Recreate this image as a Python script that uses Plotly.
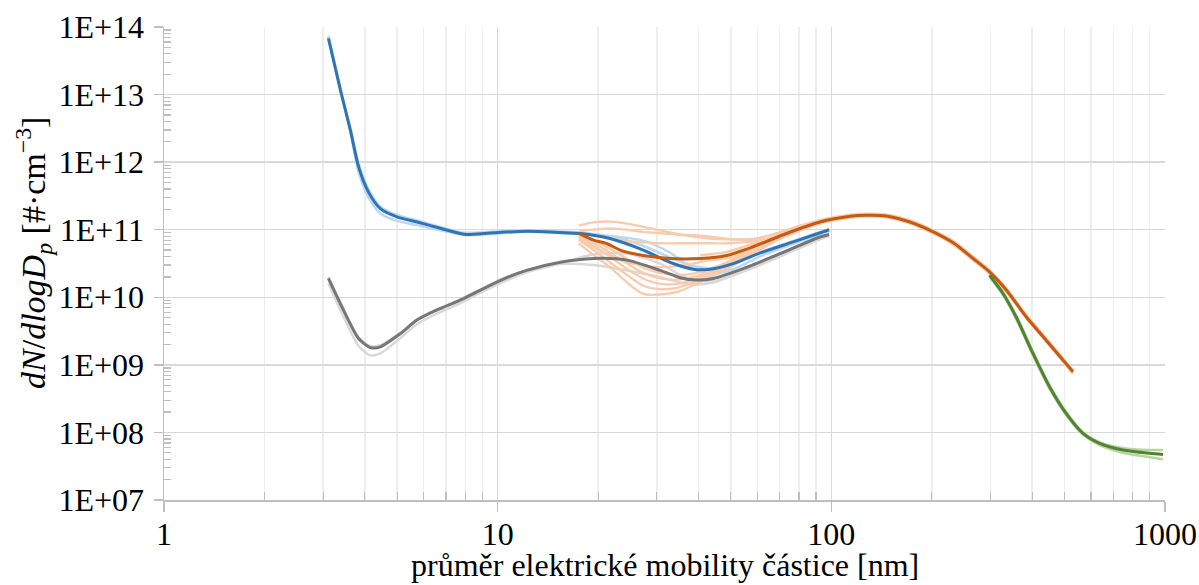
import plotly.graph_objects as go

# ---------------- data ----------------
# blue series (dark + light variants)
blue_x = [3.11, 3.38, 3.62, 3.83, 4.10, 4.45, 4.99, 5.73, 6.73, 7.72, 8.09, 9.71, 12.2, 15.4,
          17.7, 21.7, 27.3, 32.8, 38.6, 43.3, 50.8, 61.0, 76.9, 98.5]
blue_main = [6.8e13, 1.15e13, 2.95e12, 8.5e11, 3.6e11, 2.05e11, 1.55e11, 1.3e11, 1.05e11, 8.8e10,
             8.5e10, 9.0e10, 9.5e10, 9.1e10, 8.8e10, 7.4e10, 5.0e10, 3.3e10, 2.6e10, 2.6e10,
             3.15e10, 4.5e10, 6.6e10, 1.0e11]
blue_light1 = [7.4e13, 1.26e13, 2.8e12, 7.1e11, 3.0e11, 1.74e11, 1.35e11, 1.17e11, 9.8e10, 8.5e10,
               8.3e10, 8.7e10, 9.3e10, 8.9e10, 8.5e10, 8.1e10, 6.9e10, 4.6e10, 2.6e10, 2.2e10,
               2.6e10, 4.0e10, 6.2e10, 9.5e10]
blue_light2 = [7.2e13, 1.2e13, 3.2e12, 9.5e11, 4.0e11, 2.2e11, 1.65e11, 1.38e11, 1.1e11, 9.2e10,
               9.0e10, 9.3e10, 9.7e10, 9.4e10, 9.0e10, 8.0e10, 5.8e10, 3.9e10, 2.9e10, 2.7e10,
               3.2e10, 4.6e10, 6.8e10, 1.02e11]

# gray series
gray_x = [3.11, 3.45, 3.83, 4.15, 4.45, 5.11, 5.73, 6.58, 7.72, 8.66, 10.2, 12.2, 15.4, 19.4,
          24.4, 30.7, 35.2, 39.5, 44.3, 54.4, 68.5, 92.4, 98.5]
gray_main = [1.9e10, 6.45e9, 2.45e9, 1.8e9, 1.85e9, 2.9e9, 4.6e9, 6.5e9, 9.1e9, 1.2e10, 1.78e10,
             2.5e10, 3.3e10, 3.75e10, 3.55e10, 2.5e10, 1.95e10, 1.8e10, 1.9e10, 2.65e10, 4.2e10,
             7.8e10, 8.5e10]
gray_light1 = [1.6e10, 5.2e9, 1.9e9, 1.38e9, 1.48e9, 2.5e9, 4.0e9, 5.75e9, 8.1e9, 1.1e10, 1.62e10,
               2.35e10, 3.15e10, 4.35e10, 4.45e10, 3.15e10, 2.15e10, 1.75e10, 1.78e10, 2.5e10,
               4.0e10, 7.4e10, 8.1e10]
gray_light2 = [2.0e10, 6.8e9, 2.55e9, 1.9e9, 1.95e9, 3.0e9, 4.7e9, 6.6e9, 9.3e9, 1.23e10, 1.82e10,
               2.5e10, 3.1e10, 3.0e10, 2.5e10, 2.0e10, 1.66e10, 1.55e10, 1.66e10, 2.4e10, 3.8e10,
               7.2e10, 7.9e10]

# orange series
orange_x = [17.5, 19.4, 21.2, 23.3, 27.3, 32.8, 40.4, 48.6, 58.3, 73.4, 92.4, 114, 127, 146,
            172, 202, 232, 266, 298, 335, 384, 441, 530]
orange_main = [8.8e10, 7.0e10, 6.25e10, 5.0e10, 4.15e10, 3.75e10, 3.75e10, 4.15e10, 5.6e10,
               8.8e10, 1.3e11, 1.58e11, 1.64e11, 1.6e11, 1.3e11, 9.3e10, 6.4e10, 3.75e10,
               2.38e10, 1.27e10, 5.1e9, 2.3e9, 7.9e8]

# light orange scans (17.5 - 98.5 nm)
scan_x = [17.5, 19.4, 21.7, 24.4, 27.3, 30.7, 34.5, 38.6, 43.3, 48.6, 54.4, 61.0, 68.5, 76.9,
          86.3, 98.5]
scan_u1 = [1.15e11, 1.28e11, 1.32e11, 1.23e11, 1.10e11, 9.8e10, 8.7e10, 7.9e10, 7.4e10, 7.2e10,
           7.2e10, 7.6e10, 8.9e10, 1.07e11, 1.26e11, 1.45e11]
scan_u2 = [9.5e10, 1.0e11, 1.05e11, 1.0e11, 9.3e10, 8.9e10, 8.5e10, 8.3e10, 7.9e10, 7.4e10,
           7.1e10, 7.1e10, 7.9e10, 9.5e10, 1.17e11, 1.41e11]
scan_u3 = [9.1e10, 8.5e10, 7.6e10, 6.8e10, 6.5e10, 6.3e10, 6.3e10, 6.3e10, 6.3e10, 6.3e10,
           6.5e10, 6.9e10, 7.9e10, 9.5e10, 1.15e11, 1.38e11]
scan_l1 = [6.3e10, 4.2e10, 2.8e10, 1.66e10, 1.12e10, 1.1e10, 1.2e10, 1.51e10, 2.0e10, 2.63e10,
           3.55e10, 5.0e10, 6.9e10, 9.1e10, 1.15e11, 1.38e11]
scan_l2 = [7.1e10, 5.0e10, 3.3e10, 2.14e10, 1.48e10, 1.32e10, 1.38e10, 1.66e10, 2.14e10, 2.8e10,
           3.8e10, 5.25e10, 7.2e10, 9.3e10, 1.17e11, 1.41e11]
scan_l3 = [7.6e10, 5.75e10, 4.0e10, 2.63e10, 1.9e10, 1.58e10, 1.58e10, 1.82e10, 2.3e10, 2.95e10,
           4.0e10, 5.5e10, 7.4e10, 9.5e10, 1.2e11, 1.41e11]
scan_l4 = [7.9e10, 6.3e10, 4.6e10, 3.16e10, 2.3e10, 1.9e10, 1.82e10, 2.0e10, 2.4e10, 3.1e10,
           4.2e10, 5.6e10, 7.6e10, 9.8e10, 1.2e11, 1.45e11]
scan_l5 = [8.3e10, 6.9e10, 5.25e10, 3.7e10, 2.75e10, 2.3e10, 2.14e10, 2.24e10, 2.63e10, 3.3e10,
           4.4e10, 5.9e10, 7.8e10, 1.0e11, 1.23e11, 1.45e11]
scan_l6 = [7.2e10, 5.5e10, 4.2e10, 3.3e10, 2.95e10, 2.8e10, 2.9e10, 3.16e10, 3.6e10, 4.3e10,
           5.0e10, 6.2e10, 7.9e10, 1.0e11, 1.23e11, 1.41e11]

# light orange band around the main orange line (40 - 530 nm)
band_x = [40.4, 48.6, 58.3, 73.4, 92.4, 114, 127, 146, 172, 202, 232, 266, 298, 335, 384, 441, 530]
band_hi = [4.2e10, 4.7e10, 6.2e10, 9.5e10, 1.38e11, 1.66e11, 1.72e11, 1.68e11, 1.38e11, 9.8e10,
           6.8e10, 4.0e10, 2.5e10, 1.35e10, 5.5e9, 2.45e9, 8.3e8]
band_lo = [3.4e10, 3.8e10, 5.1e10, 8.1e10, 1.23e11, 1.51e11, 1.57e11, 1.53e11, 1.23e11, 8.8e10,
           6.0e10, 3.55e10, 2.24e10, 1.2e10, 4.9e9, 2.19e9, 7.4e8]

# green series
green_x = [298, 327, 358, 402, 451, 506, 568, 637, 748, 900, 986]
green_main = [2.12e10, 1.14e10, 5.1e9, 1.48e9, 4.7e8, 1.9e8, 9.7e7, 6.9e7, 5.5e7, 4.9e7, 4.7e7]
green_light1 = [2.2e10, 1.2e10, 5.4e9, 1.58e9, 5.0e8, 2.0e8, 1.0e8, 7.2e7, 5.9e7, 5.5e7, 5.5e7]
green_light2 = [2.0e10, 1.08e10, 4.8e9, 1.38e9, 4.4e8, 1.8e8, 9.2e7, 6.5e7, 5.0e7, 4.3e7, 4.0e7]

x_tickvals = [1, 10, 100, 1000]
x_ticktext = ["1", "10", "100", "1000"]
y_tickvals = [1e7, 1e8, 1e9, 1e10, 1e11, 1e12, 1e13, 1e14]
y_ticktext = ["1E+07", "1E+08", "1E+09", "1E+10", "1E+11", "1E+12", "1E+13", "1E+14"]
x_title = "průměr elektrické mobility částice [nm]"
y_title = "<i>dN</i>/<i>dlogD<sub>p</sub></i> [#·cm<sup>−3</sup>]"

# ---------------- styling ----------------
C_BLUE, C_BLUE_L = "#2E75B6", "#BDD7EE"
C_GRAY, C_GRAY_L = "#767676", "#D9D9D9"
C_ORANGE, C_ORANGE_L = "#C55A11", "#F8CBAD"
C_GREEN, C_GREEN_L = "#548235", "#B5D89E"
FONT = "Liberation Serif"

fig = go.Figure()


def add(x, y, color, width):
    fig.add_trace(go.Scatter(x=x, y=y, mode="lines",
                             line=dict(color=color, width=width, shape="spline", smoothing=0.7),
                             hoverinfo="skip", showlegend=False))


for s in (gray_light1, gray_light2):
    add(gray_x, s, C_GRAY_L, 2.5)
for s in (blue_light1, blue_light2):
    add(blue_x, s, C_BLUE_L, 2.5)
for s in (scan_u1, scan_u2, scan_u3, scan_l1, scan_l2, scan_l3, scan_l4, scan_l5, scan_l6):
    add(scan_x, s, C_ORANGE_L, 2.3)
for s in (band_hi, band_lo):
    add(band_x, s, C_ORANGE_L, 2.5)
for s in (green_light1, green_light2):
    add(green_x, s, C_GREEN_L, 2.5)

add(gray_x, gray_main, C_GRAY, 3)
add(blue_x, blue_main, C_BLUE, 3)
add(orange_x, orange_main, C_ORANGE, 3)
add(green_x, green_main, C_GREEN, 3)

x_minor = [m * 10 ** e for e in range(0, 3) for m in range(2, 10)]
y_minor = [m * 10 ** e for e in range(7, 14) for m in range(2, 10)]

fig.update_layout(
    width=1199, height=585,
    margin=dict(l=163.5, r=33.5, t=26.7, b=85),
    paper_bgcolor="white", plot_bgcolor="white",
    font=dict(family=FONT, size=32, color="black"),
    xaxis=dict(
        type="log", range=[0, 3], automargin=False,
        tickmode="array", tickvals=x_tickvals, ticktext=x_ticktext,
        ticks="outside", ticklen=10, tickwidth=1.5, tickcolor="#BFBFBF",
        ticklabelstandoff=-5, ticklabeloverflow="allow",
        showline=True, linecolor="#BFBFBF", linewidth=1.5,
        showgrid=True, gridcolor="#D9D9D9", gridwidth=1.5,
        zeroline=False,
        tickfont=dict(family=FONT, size=32, color="black"),
        minor=dict(tickmode="array", tickvals=x_minor, ticks="inside", ticklen=8,
                   tickwidth=1.2, tickcolor="#BFBFBF",
                   showgrid=True, gridcolor="#EEEEEE", gridwidth=1.5),
    ),
    yaxis=dict(
        type="log", range=[7, 14], automargin=False,
        tickmode="array", tickvals=y_tickvals, ticktext=y_ticktext,
        ticks="outside", ticklen=9, tickwidth=1.5, tickcolor="#BFBFBF",
        ticklabelstandoff=3,
        showline=True, linecolor="#BFBFBF", linewidth=1.5,
        showgrid=True, gridcolor="#D9D9D9", gridwidth=1.5,
        zeroline=False,
        tickfont=dict(family=FONT, size=32, color="black"),
        minor=dict(tickmode="array", tickvals=y_minor, ticks="inside", ticklen=7,
                   tickwidth=1.2, tickcolor="#BFBFBF", showgrid=False),
    ),
    annotations=[
        dict(text=x_title, xref="paper", yref="paper", x=0.5, y=-0.137,
             xanchor="center", yanchor="middle", showarrow=False,
             font=dict(family=FONT, size=32, color="black")),
        dict(text=y_title, xref="paper", yref="paper", x=-0.131, y=0.522,
             xanchor="center", yanchor="middle", textangle=-90, showarrow=False,
             font=dict(family=FONT, size=34, color="black")),
    ],
)

# remove the browser's default 8 px page margin so the figure fills the window exactly
fig.write_html("out.html",
               config={"displayModeBar": False, "staticPlot": True},
               post_script="document.body.style.margin='0';document.body.style.overflow='hidden';")
